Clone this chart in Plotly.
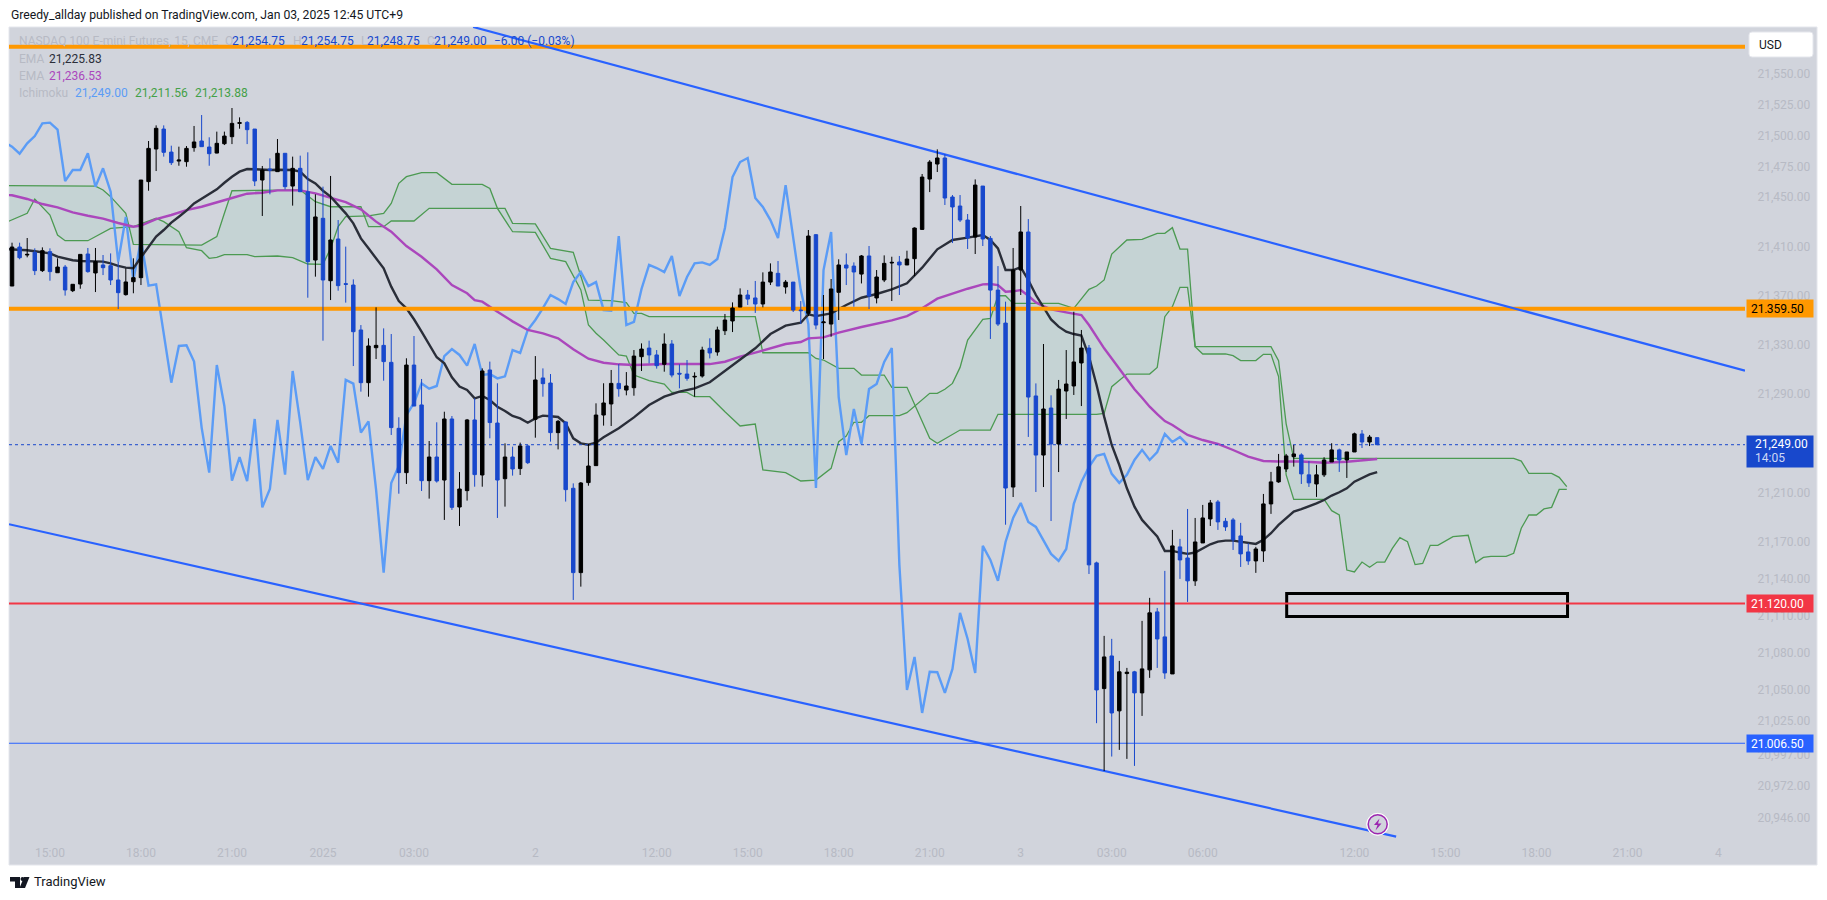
import plotly.graph_objects as go

# Colors
PANEL = '#d1d4dc'
BLACK = '#000000'
BLUE_DOWN = '#1848cc'
TREND_BLUE = '#2962ff'
ORANGE = '#ff9800'
RED = '#f23645'
FAINT = '#b7bac4'
DARK = '#131722'
MAGENTA = '#ab47bc'
GREEN = '#4c9a52'
LAG_BLUE = '#5b9cf6'

# --- 15 min candles, one entry per bar, oldest first ---
opens = [21377.9, 21409.6, 21403.1, 21405.3, 21390.4, 21405.8, 21388.7, 21393.3, 21374.1, 21379.5,
         21403.9, 21388.5, 21395.0, 21394.4, 21382.8, 21370.9, 21381.4, 21384.7, 21462.7, 21489.2,
         21505.4, 21486.7, 21479.4, 21478.9, 21490.3, 21495.7, 21490.8, 21485.9, 21493.5, 21499.2,
         21510.0, 21510.8, 21505.4, 21464.0, 21473.0, 21470.8, 21485.7, 21459.1, 21473.5, 21454.5,
         21399.0, 21432.9, 21382.2, 21416.1, 21379.8, 21378.7, 21342.2, 21299.4, 21327.8, 21329.7,
         21315.9, 21262.3, 21226.3, 21313.7, 21281.3, 21219.8, 21239.0, 21220.3, 21269.9, 21198.4,
         21211.7, 21269.1, 21224.4, 21309.7, 21266.6, 21221.4, 21239.0, 21229.6, 21248.0, 21269.6,
         21303.2, 21299.1, 21258.8, 21267.5, 21213.6, 21145.1, 21218.2, 21232.0, 21273.1, 21282.1,
         21298.8, 21293.4, 21295.3, 21320.5, 21327.5, 21321.9, 21314.3, 21330.8, 21307.0, 21306.4,
         21304.0, 21304.8, 21327.3, 21324.3, 21341.6, 21349.5, 21360.8, 21370.6, 21368.2, 21363.3,
         21381.1, 21388.2, 21377.1, 21381.1, 21358.4, 21355.7, 21419.6, 21348.1, 21347.0, 21372.8,
         21395.0, 21394.1, 21387.6, 21402.3, 21368.2, 21382.8, 21396.6, 21397.4, 21395.0, 21400.1,
         21423.9, 21464.8, 21477.0, 21481.9, 21450.2, 21442.9, 21431.5, 21417.7, 21459.1, 21416.6,
         21374.6, 21347.8, 21214.6, 21390.9, 21421.8, 21288.6, 21240.6, 21278.8, 21249.6, 21292.6,
         21296.7, 21315.4, 21327.5, 21153.0, 21050.9, 21077.4, 21032.8, 21063.1, 21064.5, 21047.4,
         21066.1, 21113.2, 21092.9, 21062.8, 21166.0, 21157.0, 21138.4, 21169.2, 21188.7, 21202.5,
         21186.8, 21187.9, 21174.9, 21161.9, 21154.6, 21162.7, 21200.9, 21218.8, 21229.3, 21239.3,
         21240.7, 21224.5, 21217.1, 21224.5, 21235.0, 21244.8, 21236.6, 21243.1, 21257.7, 21251.2,
         21254.75]
highs = [21413.1, 21413.1, 21416.9, 21408.5, 21409.3, 21408.5, 21400.4, 21395.0, 21379.3, 21403.6,
         21408.8, 21408.8, 21403.1, 21404.4, 21397.7, 21392.3, 21400.4, 21464.0, 21495.7, 21508.4,
         21508.4, 21491.9, 21491.1, 21491.6, 21507.9, 21516.8, 21498.7, 21503.3, 21503.3, 21522.5,
         21514.9, 21511.9, 21505.4, 21475.4, 21481.6, 21497.3, 21485.7, 21483.0, 21483.8, 21486.5,
         21452.4, 21458.6, 21467.3, 21431.5, 21409.9, 21383.3, 21346.2, 21335.4, 21360.6, 21343.5,
         21338.9, 21271.3, 21319.2, 21337.3, 21302.4, 21252.0, 21267.2, 21275.8, 21272.3, 21226.8,
         21269.9, 21286.7, 21311.0, 21316.5, 21298.9, 21250.1, 21247.4, 21250.7, 21248.8, 21321.0,
         21311.0, 21306.4, 21269.1, 21267.7, 21217.6, 21218.7, 21249.6, 21282.6, 21298.9, 21309.7,
         21314.5, 21308.0, 21325.9, 21331.3, 21333.5, 21325.9, 21339.4, 21334.0, 21314.3, 21317.8,
         21307.8, 21328.6, 21335.4, 21344.9, 21355.2, 21364.6, 21376.0, 21374.7, 21382.0, 21389.0,
         21396.3, 21398.2, 21382.8, 21381.1, 21365.7, 21423.4, 21420.1, 21370.6, 21383.6, 21399.6,
         21404.4, 21397.1, 21403.1, 21410.4, 21390.9, 21402.8, 21401.7, 21402.3, 21406.6, 21425.5,
         21468.9, 21480.2, 21488.9, 21485.1, 21451.8, 21451.8, 21436.4, 21464.5, 21459.1, 21418.5,
         21394.1, 21365.2, 21408.8, 21442.9, 21432.3, 21298.8, 21330.8, 21289.1, 21301.6, 21325.9,
         21357.0, 21342.2, 21330.0, 21154.0, 21093.7, 21091.3, 21073.4, 21067.7, 21065.3, 21105.9,
         21124.6, 21116.4, 21146.5, 21179.8, 21172.5, 21196.8, 21189.5, 21200.1, 21204.1, 21204.1,
         21189.5, 21189.5, 21185.5, 21169.0, 21166.0, 21209.0, 21226.9, 21241.5, 21241.5, 21248.8,
         21242.0, 21235.8, 21232.6, 21238.8, 21250.2, 21245.8, 21243.1, 21258.8, 21260.9, 21256.9,
         21254.75]
lows = [21377.9, 21399.6, 21401.2, 21386.8, 21389.3, 21382.2, 21388.7, 21370.1, 21373.0, 21375.7,
        21388.7, 21373.0, 21386.8, 21378.7, 21359.2, 21370.1, 21372.0, 21378.7, 21455.3, 21471.3,
        21483.0, 21476.2, 21475.6, 21474.8, 21487.0, 21491.1, 21475.6, 21485.7, 21492.4, 21493.2,
        21505.7, 21493.2, 21459.1, 21434.8, 21452.4, 21470.8, 21456.4, 21443.2, 21454.5, 21368.4,
        21385.5, 21333.5, 21366.5, 21374.1, 21364.4, 21312.9, 21292.1, 21288.0, 21318.6, 21301.0,
        21256.9, 21209.2, 21217.1, 21280.4, 21211.4, 21205.2, 21218.2, 21187.9, 21196.0, 21183.0,
        21203.6, 21214.9, 21214.9, 21254.2, 21189.5, 21198.7, 21223.9, 21224.4, 21233.3, 21254.7,
        21288.0, 21251.5, 21245.2, 21202.8, 21122.9, 21133.7, 21215.7, 21232.0, 21264.5, 21264.2,
        21288.0, 21289.1, 21288.8, 21308.9, 21315.1, 21310.8, 21308.3, 21303.7, 21294.8, 21301.0,
        21288.0, 21303.5, 21319.1, 21321.3, 21338.1, 21340.5, 21360.8, 21362.5, 21356.0, 21360.6,
        21378.7, 21377.9, 21371.7, 21356.8, 21347.0, 21353.5, 21342.7, 21318.6, 21336.7, 21350.3,
        21378.7, 21361.1, 21380.0, 21359.2, 21363.8, 21381.1, 21365.7, 21370.6, 21395.0, 21386.0,
        21423.4, 21454.2, 21470.5, 21443.7, 21412.8, 21429.9, 21408.0, 21403.9, 21410.4, 21334.9,
        21345.4, 21184.0, 21206.5, 21370.6, 21255.3, 21210.6, 21214.6, 21187.0, 21226.8, 21269.9,
        21289.4, 21280.4, 21144.0, 21022.8, 20984.0, 20995.7, 21001.1, 20993.8, 20988.1, 21028.7,
        21059.6, 21067.7, 21058.8, 21062.8, 21140.0, 21121.3, 21134.3, 21169.2, 21183.0, 21179.8,
        21179.0, 21163.5, 21149.7, 21151.4, 21144.9, 21153.8, 21192.8, 21218.0, 21226.9, 21231.2,
        21217.1, 21214.7, 21206.6, 21222.8, 21235.0, 21226.9, 21222.0, 21243.1, 21246.3, 21247.9,
        21248.75]
closes = [21409.6, 21400.9, 21403.6, 21390.4, 21406.6, 21389.6, 21393.3, 21374.7, 21379.3, 21403.6,
          21389.6, 21397.7, 21392.8, 21382.8, 21372.5, 21381.2, 21384.7, 21464.0, 21489.7, 21506.0,
          21486.5, 21478.1, 21480.2, 21489.7, 21494.9, 21491.1, 21485.4, 21493.8, 21499.7, 21510.0,
          21510.6, 21504.9, 21463.2, 21472.1, 21472.1, 21485.7, 21458.6, 21473.5, 21454.5, 21397.7,
          21434.0, 21382.8, 21415.3, 21378.2, 21379.3, 21340.8, 21299.4, 21329.2, 21329.7, 21316.5,
          21262.9, 21226.3, 21313.7, 21280.4, 21219.8, 21239.0, 21219.5, 21269.9, 21198.1, 21213.0,
          21269.1, 21224.7, 21308.9, 21267.0, 21220.3, 21239.0, 21229.3, 21248.0, 21234.4, 21301.6,
          21298.6, 21258.8, 21268.0, 21212.5, 21145.1, 21217.9, 21231.7, 21273.1, 21282.9, 21298.8,
          21294.5, 21296.7, 21321.0, 21326.7, 21321.9, 21313.2, 21330.8, 21305.6, 21306.4, 21302.9,
          21304.5, 21325.9, 21323.5, 21342.2, 21350.3, 21360.0, 21370.6, 21367.3, 21363.3, 21381.1,
          21389.3, 21377.9, 21381.1, 21358.4, 21357.9, 21418.5, 21346.2, 21348.7, 21375.5, 21395.0,
          21392.5, 21389.3, 21402.3, 21369.8, 21385.2, 21396.3, 21397.1, 21395.0, 21399.8, 21425.0,
          21466.4, 21478.6, 21481.9, 21449.4, 21442.1, 21431.5, 21416.9, 21459.9, 21416.1, 21374.6,
          21347.0, 21213.8, 21390.9, 21421.8, 21287.7, 21240.6, 21278.0, 21249.6, 21294.2, 21298.3,
          21316.2, 21327.5, 21151.4, 21049.8, 21076.6, 21031.1, 21064.5, 21064.2, 21047.4, 21066.9,
          21112.4, 21091.2, 21063.6, 21166.8, 21155.4, 21138.4, 21170.0, 21189.5, 21201.7, 21186.3,
          21182.2, 21171.7, 21160.3, 21154.6, 21164.3, 21200.9, 21218.8, 21231.0, 21239.9, 21241.5,
          21225.3, 21218.0, 21224.5, 21236.6, 21244.8, 21236.6, 21243.1, 21257.8, 21251.2, 21255.2,
          21249.0]
bars = list(range(len(closes)))

# --- EMA (black) ---
ema_fast_bars = [-1, 0, 1, 2, 3, 4, 5, 6, 7, 8, 9, 10, 11, 12, 13, 14, 15, 16, 17, 18, 19, 20, 21, 22, 23, 24, 25,
                 26, 27, 28, 29, 30, 31, 32, 33, 34, 35, 36, 37, 38, 39, 40, 41, 42, 43, 44, 45, 46, 47, 48, 49,
                 50, 51, 52, 53, 54, 55, 56, 57, 58, 59, 60, 61, 62, 63, 64, 65, 66, 67, 68, 69, 70, 71, 72, 73,
                 74, 75, 76, 77, 78, 80, 82, 84, 86, 88, 90, 92, 94, 96, 98, 100, 102, 104, 105, 106, 108, 110,
                 112, 114, 116, 118, 120, 122, 124, 126, 128, 129, 130, 131, 132, 133, 134, 135, 136, 137, 138,
                 139, 140, 141, 142, 143, 144, 145, 146, 147, 148, 149, 150, 151, 152, 153, 154, 155, 156, 157,
                 158, 159, 160, 161, 162, 163, 164, 165, 166, 167, 168, 169, 170, 171, 172, 173, 174, 175, 176,
                 177, 178, 179, 180]
ema_fast = [21408.0, 21407.7, 21407.4, 21406.9, 21406.1, 21405.5, 21404.4, 21401.7, 21400.1, 21398.8, 21398.2,
            21398.2, 21398.2, 21397.7, 21396.3, 21394.2, 21392.8, 21392.3, 21401.2, 21409.9, 21418.0, 21423.4,
            21429.4, 21434.2, 21439.1, 21445.0, 21448.6, 21452.6, 21456.4, 21461.8, 21466.7, 21470.8, 21472.9,
            21472.7, 21472.1, 21472.1, 21472.4, 21472.1, 21472.1, 21470.8, 21464.8, 21461.3, 21455.3, 21450.5,
            21443.7, 21436.9, 21428.8, 21416.6, 21408.5, 21400.4, 21392.3, 21377.4, 21365.7, 21359.8, 21350.9,
            21340.8, 21330.0, 21320.0, 21315.1, 21303.7, 21296.2, 21293.5, 21286.7, 21288.6, 21285.3, 21279.9,
            21276.4, 21272.3, 21270.4, 21266.9, 21270.4, 21272.6, 21272.1, 21271.5, 21266.4, 21254.2, 21250.1,
            21249.0, 21250.7, 21255.0, 21262.3, 21271.2, 21281.2, 21288.0, 21292.1, 21294.8, 21299.7, 21309.1,
            21317.8, 21327.3, 21338.9, 21345.7, 21348.1, 21354.9, 21353.5, 21355.7, 21362.5, 21368.4, 21371.4,
            21375.2, 21380.1, 21392.8, 21407.7, 21415.3, 21417.2, 21419.3, 21415.3, 21408.5, 21390.9, 21390.9,
            21393.1, 21382.8, 21370.6, 21361.1, 21350.8, 21344.9, 21340.8, 21338.9, 21337.6, 21320.5, 21297.5,
            21271.8, 21248.8, 21232.5, 21213.6, 21198.7, 21187.9, 21181.1, 21174.4, 21162.7, 21162.7, 21161.4,
            21160.3, 21161.4, 21164.9, 21168.1, 21170.3, 21171.1, 21171.1, 21170.3, 21169.0, 21168.4, 21171.7,
            21177.1, 21183.8, 21189.3, 21194.7, 21196.6, 21198.7, 21201.4, 21204.1, 21207.7, 21210.4, 21213.6,
            21219.0, 21222.2, 21224.9, 21226.8]

# --- EMA (magenta) ---
ema_slow_bars = [-1, 0, 2, 4, 6, 8, 10, 12, 14, 16, 17, 18, 19, 21, 23, 25, 27, 29, 31, 33, 35, 38, 40, 42, 44, 46,
                 48, 50, 52, 54, 56, 58, 59, 60, 61, 62, 64, 66, 68, 70, 72, 74, 76, 78, 80, 82, 86, 90, 92, 94,
                 96, 98, 100, 102, 104, 105, 107, 109, 112, 114, 116, 118, 120, 122, 124, 126, 128, 129, 130, 131,
                 132, 133, 134, 135, 136, 137, 139, 141, 142, 143, 144, 145, 146, 147, 148, 149, 150, 151, 152,
                 153, 154, 155, 157, 159, 161, 163, 165, 167, 170, 173, 176, 178, 180]
ema_slow = [21452.0, 21451.6, 21448.6, 21444.5, 21441.8, 21437.7, 21435.0, 21432.6, 21429.1, 21426.1, 21426.9,
            21429.4, 21432.3, 21435.6, 21439.6, 21442.3, 21445.6, 21449.4, 21452.9, 21453.7, 21455.6, 21455.6,
            21453.2, 21449.9, 21446.1, 21440.2, 21430.2, 21422.0, 21410.4, 21401.7, 21391.4, 21378.7, 21375.2,
            21372.0, 21366.5, 21365.2, 21357.1, 21349.2, 21342.2, 21339.5, 21335.4, 21326.5, 21318.9, 21315.6,
            21314.3, 21313.7, 21314.5, 21314.3, 21314.5, 21316.4, 21320.5, 21323.8, 21327.5, 21330.8, 21332.4,
            21335.4, 21336.2, 21340.0, 21344.6, 21347.0, 21350.0, 21353.5, 21359.8, 21367.6, 21371.9, 21375.7,
            21379.2, 21379.5, 21378.7, 21373.3, 21373.6, 21374.6, 21370.0, 21364.6, 21361.6, 21358.9, 21356.5,
            21354.3, 21346.2, 21336.2, 21327.3, 21319.1, 21310.5, 21302.9, 21294.0, 21287.2, 21279.9, 21273.9,
            21268.2, 21265.0, 21260.9, 21256.9, 21252.8, 21249.6, 21244.7, 21239.3, 21235.8, 21235.3, 21235.3,
            21234.4, 21235.2, 21236.3, 21237.4]

# --- Ichimoku lagging span, starts one bar left of the pane ---
lagging_bars = list(range(-1, 156))
lagging_span = [21494.9, 21491.1, 21485.4, 21493.8, 21499.7, 21510.0,
                21510.6, 21504.9, 21463.2, 21472.1, 21472.1, 21485.7, 21458.6, 21473.5, 21454.5, 21397.7,
                21434.0, 21382.8, 21415.3, 21378.2, 21379.3, 21340.8, 21299.4, 21329.2, 21329.7, 21316.5,
                21262.9, 21226.3, 21313.7, 21280.4, 21219.8, 21239.0, 21219.5, 21269.9, 21198.1, 21213.0,
                21269.1, 21224.7, 21308.9, 21267.0, 21220.3, 21239.0, 21229.3, 21248.0, 21234.4, 21301.6,
                21298.6, 21258.8, 21268.0, 21212.5, 21145.1, 21217.9, 21231.7, 21273.1, 21282.9, 21298.8,
                21294.5, 21296.7, 21321.0, 21326.7, 21321.9, 21313.2, 21330.8, 21305.6, 21306.4, 21302.9,
                21304.5, 21325.9, 21323.5, 21342.2, 21350.3, 21360.0, 21370.6, 21367.3, 21363.3, 21381.1,
                21389.3, 21377.9, 21381.1, 21358.4, 21357.9, 21418.5, 21346.2, 21348.7, 21375.5, 21395.0,
                21392.5, 21389.3, 21402.3, 21369.8, 21385.2, 21396.3, 21397.1, 21395.0, 21399.8, 21425.0,
                21466.4, 21478.6, 21481.9, 21449.4, 21442.1, 21431.5, 21416.9, 21459.9, 21416.1, 21374.6,
                21347.0, 21213.8, 21390.9, 21421.8, 21287.7, 21240.6, 21278.0, 21249.6, 21294.2, 21298.3,
                21316.2, 21327.5, 21151.4, 21049.8, 21076.6, 21031.1, 21064.5, 21064.2, 21047.4, 21066.9,
                21112.4, 21091.2, 21063.6, 21166.8, 21155.4, 21138.4, 21170.0, 21189.5, 21201.7, 21186.3,
                21182.2, 21171.7, 21160.3, 21154.6, 21164.3, 21200.9, 21218.8, 21231.0, 21239.9, 21241.5,
                21225.3, 21218.0, 21224.5, 21236.6, 21244.8, 21236.6, 21243.1, 21257.8, 21251.2, 21255.2,
                21249.0]

# --- Ichimoku cloud edges ---
span_a_bars = [-1, 0, 2, 3, 4, 5, 6, 7, 10, 11, 13, 16, 19, 20, 22, 23, 25, 26, 27, 28, 31, 32, 34, 35, 37, 39, 41,
               42, 43, 44, 47, 49, 50, 51, 52, 54, 56, 57, 58, 62, 63, 64, 66, 69, 71, 73, 75, 76, 77, 78, 80, 81,
               82, 84, 86, 87, 89, 90, 92, 94, 96, 98, 99, 102, 104, 106, 108, 109, 110, 111, 112, 113, 117, 118,
               121, 122, 123, 124, 125, 126, 128, 129, 130, 131, 132, 138, 140, 142, 143, 144, 145, 147, 149, 151,
               152, 153, 154, 155, 156, 157, 160, 161, 162, 164, 165, 166, 167, 168, 169, 173, 174, 175, 176, 177,
               178, 179, 180, 181, 182, 183, 184, 185, 186, 187, 188, 190, 192, 193, 194, 195, 197, 198, 199, 200,
               201, 202, 203, 204, 205]
span_a = [21429.0, 21431.5, 21437.0, 21448.6, 21441.8, 21435.6, 21419.3, 21414.7, 21414.7, 21418.0, 21424.7, 21426.1,
          21432.9, 21430.2, 21422.0, 21409.0, 21406.6, 21400.4, 21401.2, 21403.4, 21403.4, 21401.7, 21401.7, 21402.3,
          21401.0, 21395.8, 21395.5, 21408.5, 21426.1, 21434.2, 21434.8, 21436.9, 21445.0, 21461.3, 21466.7, 21470.0,
          21470.0, 21465.4, 21460.5, 21460.5, 21457.2, 21441.0, 21422.0, 21421.5, 21400.4, 21397.7, 21374.7, 21346.2,
          21339.5, 21334.0, 21321.9, 21321.0, 21305.6, 21301.0, 21298.3, 21291.5, 21291.5, 21288.0, 21288.0, 21275.8,
          21264.2, 21265.8, 21228.5, 21226.3, 21219.5, 21220.3, 21229.8, 21251.5, 21256.1, 21267.2, 21267.2, 21272.6,
          21272.6, 21275.0, 21290.7, 21290.7, 21294.0, 21298.8, 21311.8, 21334.0, 21350.8, 21351.6, 21370.0, 21370.0,
          21363.8, 21363.8, 21359.8, 21375.2, 21377.9, 21382.8, 21403.9, 21415.3, 21415.8, 21420.7, 21420.7, 21425.3,
          21407.9, 21407.9, 21328.6, 21322.7, 21322.7, 21321.3, 21317.3, 21317.3, 21322.4, 21322.4, 21304.3, 21224.4,
          21204.6, 21204.6, 21195.4, 21191.9, 21147.2, 21145.6, 21153.7, 21149.4, 21153.7, 21153.7, 21164.8, 21173.5,
          21170.2, 21151.6, 21152.6, 21167.3, 21167.3, 21174.3, 21175.4, 21153.2, 21157.5, 21158.3, 21158.3, 21160.8,
          21181.1, 21191.9, 21191.9, 21196.8, 21198.1, 21212.7, 21212.7]
span_b_bars = [-1, 0, 11, 12, 13, 15, 16, 25, 27, 28, 29, 38, 40, 42, 46, 47, 49, 50, 53, 55, 65, 66, 69, 71, 74, 76,
               78, 79, 81, 82, 83, 84, 98, 99, 105, 106, 107, 109, 111, 112, 115, 116, 118, 121, 122, 125, 129, 130,
               143, 144, 145, 147, 150, 151, 152, 153, 154, 155, 156, 166, 167, 168, 169, 198, 199, 200, 203, 204,
               205]
span_b = [21459.4, 21459.4, 21459.1, 21455.9, 21450.5, 21437.0, 21411.8, 21411.2, 21418.0, 21437.0, 21455.3, 21455.9,
          21446.4, 21442.3, 21442.3, 21426.1, 21426.1, 21430.7, 21430.7, 21441.0, 21441.0, 21428.8, 21428.3, 21408.5,
          21405.3, 21366.5, 21366.5, 21366.0, 21364.4, 21355.7, 21355.7, 21353.0, 21353.0, 21323.7, 21323.7, 21319.1,
          21317.8, 21311.0, 21311.0, 21305.6, 21305.6, 21295.6, 21295.6, 21254.2, 21250.1, 21260.9, 21260.9, 21273.7,
          21273.7, 21274.5, 21296.1, 21306.4, 21306.4, 21311.8, 21353.0, 21361.1, 21376.8, 21376.8, 21328.6, 21328.6,
          21317.3, 21266.0, 21237.9, 21237.9, 21235.7, 21225.7, 21225.7, 21222.5, 21214.9]

# --- Drawn objects ---
upper_trend_bars = [60.8, 228.5]
upper_trend_prices = [21588.3, 21309.1]
lower_trend_bars = [-0.4, 182.5]
lower_trend_prices = [21184.4, 20930.6]
box_bars = [168.07, 205.1]
box_prices = [21109.5, 21128.2]

top_level = 21572.3
resistance_level = 21359.5
red_level = 21120.0
blue_level = 21006.5
last_price = 21249.0

# --- Axes labels ---
time_tick_bars = [5, 17, 29, 41, 53, 69, 85, 97, 109, 121, 133, 145, 157, 177, 189, 201, 213, 225]
time_tick_labels = ['15:00', '18:00', '21:00', '2025', '03:00', '2', '12:00', '15:00', '18:00', '21:00', '3',
                    '03:00', '06:00', '12:00', '15:00', '18:00', '21:00', '4']
price_ticks = [21550, 21525, 21500, 21475, 21450, 21410, 21370, 21330, 21290, 21210, 21170, 21140, 21110,
               21080, 21050, 21025, 20997, 20972, 20946]

X_RANGE = [-0.4, 228.5]
Y_RANGE = [20907.6, 21588.3]

# pane in page pixels. The browser keeps its 8px body margin, so the figure starts at (8, 8)
PAGE = 8
L, R, T, B = 9, 1745, 27, 865
W, H = 1827 - PAGE, 900 - PAGE


def px(x):
    return (x - L) / (R - L)


def py(y):
    return (B - y) / (B - T)


fig = go.Figure()

# cloud, then EMAs and lagging line, then levels. Candles go on an overlay axis so they end up on top
fig.add_trace(go.Scatter(x=span_a_bars, y=span_a, mode='lines', line=dict(color=GREEN, width=1.3), hoverinfo='skip'))
fig.add_trace(go.Scatter(x=span_b_bars, y=span_b, mode='lines', line=dict(color=GREEN, width=1.3),
                         fill='tonexty', fillcolor='rgba(135,205,167,0.15)', hoverinfo='skip'))
fig.add_trace(go.Scatter(x=lagging_bars, y=lagging_span, mode='lines', line=dict(color=LAG_BLUE, width=2.4), hoverinfo='skip'))
fig.add_trace(go.Scatter(x=ema_slow_bars, y=ema_slow, mode='lines', line=dict(color=MAGENTA, width=2.4), hoverinfo='skip'))
fig.add_trace(go.Scatter(x=ema_fast_bars, y=ema_fast, mode='lines', line=dict(color='#2a2e39', width=2.4), hoverinfo='skip'))

for level, color, width, dash in [(last_price, BLUE_DOWN, 1, 'dot'), (blue_level, TREND_BLUE, 1, 'solid'),
                                  (red_level, RED, 2, 'solid'), (resistance_level, ORANGE, 4, 'solid'),
                                  (top_level, ORANGE, 4, 'solid')]:
    fig.add_trace(go.Scatter(x=X_RANGE, y=[level, level], mode='lines',
                             line=dict(color=color, width=width, dash=dash), hoverinfo='skip'))

fig.add_trace(go.Scatter(x=upper_trend_bars, y=upper_trend_prices, mode='lines',
                         line=dict(color=TREND_BLUE, width=2.2), hoverinfo='skip'))
fig.add_trace(go.Scatter(x=lower_trend_bars, y=lower_trend_prices, mode='lines',
                         line=dict(color=TREND_BLUE, width=2.2), hoverinfo='skip'))

fig.add_trace(go.Candlestick(
    x=bars, open=opens, high=highs, low=lows, close=closes,
    xaxis='x2', yaxis='y2', whiskerwidth=0,
    increasing=dict(line=dict(color=BLACK, width=1), fillcolor=BLACK),
    decreasing=dict(line=dict(color=BLUE_DOWN, width=1), fillcolor=BLUE_DOWN),
    hoverinfo='skip'
))

shapes = [
    # whole chart panel including the axis strips
    dict(type='rect', xref='paper', yref='paper', x0=px(L), x1=px(1817), y0=py(865), y1=py(27),
         fillcolor=PANEL, line=dict(color='#e4e6ec', width=1), layer='below'),
    dict(type='rect', xref='x', yref='y', x0=box_bars[0], x1=box_bars[1], y0=box_prices[0], y1=box_prices[1],
         fillcolor='rgba(0,0,0,0)', line=dict(color=BLACK, width=3), layer='below'),
    # USD box
    dict(type='path', xref='paper', yref='paper', fillcolor='white', line=dict(color='#e4e6ec', width=1),
         path=f'M {px(1752)} {py(32)} L {px(1810)} {py(32)} Q {px(1813)} {py(32)} {px(1813)} {py(35)} '
              f'L {px(1813)} {py(54)} Q {px(1813)} {py(57)} {px(1810)} {py(57)} L {px(1752)} {py(57)} '
              f'Q {px(1749)} {py(57)} {px(1749)} {py(54)} L {px(1749)} {py(35)} Q {px(1749)} {py(32)} {px(1752)} {py(32)} Z'),
    # lightning badge
    dict(type='circle', xref='paper', yref='paper', x0=px(1366.7), x1=px(1388.7), y0=py(835.3), y1=py(813.3),
         fillcolor='#f4f1f6', line=dict(color='white', width=1)),
    dict(type='circle', xref='paper', yref='paper', x0=px(1368.2), x1=px(1387.2), y0=py(833.8), y1=py(814.8),
         fillcolor=PANEL, line=dict(color='#9c27b0', width=1.5)),
    dict(type='path', xref='paper', yref='paper', fillcolor='#9c27b0', line=dict(width=0),
         path=f'M {px(1379.5)} {py(818.5)} L {px(1374)} {py(825)} L {px(1377.5)} {py(825)} L {px(1375.5)} {py(830.5)} '
              f'L {px(1381.5)} {py(823.5)} L {px(1378)} {py(823.5)} Z'),
    # TradingView mark
    dict(type='path', xref='paper', yref='paper', fillcolor=DARK, line=dict(width=0),
         path=f'M {px(10)} {py(877)} L {px(20)} {py(877)} L {px(20)} {py(888)} L {px(15)} {py(888)} L {px(15)} {py(881.5)} '
              f'L {px(10)} {py(881.5)} Z'),
    dict(type='circle', xref='paper', yref='paper', x0=px(20.5), x1=px(24.5), y0=py(881), y1=py(877),
         fillcolor=DARK, line=dict(width=0)),
    dict(type='path', xref='paper', yref='paper', fillcolor=DARK, line=dict(width=0),
         path=f'M {px(24)} {py(877)} L {px(29.5)} {py(877)} L {px(25)} {py(888)} L {px(19.5)} {py(888)} Z'),
]


def add_text(x, y, text, color, size=12, **kw):
    fig.add_annotation(xref='paper', yref='paper', x=px(x), y=py(y), text=text, showarrow=False,
                       xanchor='left', yanchor='middle', borderpad=0,
                       font=dict(family='Roboto', size=size, color=color), **kw)


# top banner and footer
add_text(10, 15, 'Greedy_allday published on TradingView.com, Jan 03, 2025 12:45 UTC+9', DARK, size=12.2)
add_text(33, 882, 'TradingView', DARK, size=13)

# indicator legend
add_text(18, 41, 'NASDAQ 100 E-mini Futures, 15, CME', FAINT)
for x, letter, value_x, value in [(224, 'O', 231, '21,254.75'), (292, 'H', 300, '21,254.75'),
                                  (360, 'L', 366, '21,248.75'), (426, 'C', 433, '21,249.00')]:
    add_text(x, 41, letter, FAINT)
    add_text(value_x, 41, value, BLUE_DOWN)
add_text(493, 41, '−6.00 (−0.03%)', BLUE_DOWN)
add_text(18, 58.7, 'EMA', FAINT)
add_text(47.5, 58.7, '21,225.83', '#2a2e39')
add_text(18, 75.7, 'EMA', FAINT)
add_text(47.5, 75.7, '21,236.53', MAGENTA)
add_text(18, 92.7, 'Ichimoku', FAINT)
add_text(74, 92.7, '21,249.00', LAG_BLUE)
add_text(133.5, 92.7, '21,211.56', '#43a047')
add_text(194, 92.7, '21,213.88', '#43a047')

add_text(1758, 44.5, 'USD', DARK)


# price tags on the right scale
def add_tag(price, text, bg, color, height=17):
    fig.add_annotation(xref='paper', yref='y', x=px(1746), y=price, text=text, showarrow=False,
                       xanchor='left', yanchor='middle', align='left', width=58, height=height,
                       bgcolor=bg, borderpad=4,
                       font=dict(family='Roboto', size=12, color=color))


add_tag(resistance_level, '21,359.50', ORANGE, BLACK, height=9)
add_tag(red_level, '21,120.00', RED, 'white', height=9)
add_tag(blue_level, '21,006.50', TREND_BLUE, 'white', height=9)
# last price tag has two rows, background first and the rows on top of it
fig.add_annotation(xref='paper', yref='paper', x=px(1746), y=py(451.3), text=' ', showarrow=False,
                   xanchor='left', yanchor='middle', width=66, height=31, bgcolor=BLUE_DOWN, borderpad=0)
add_text(1754, 444, '21,249.00', 'white')
add_text(1754, 458, '14:05', '#cfd8f5')

axis_font = dict(family='Roboto', size=12, color=FAINT)
fig.update_layout(
    width=W, height=H,
    margin=dict(l=L - PAGE, r=W - (R - PAGE), t=T - PAGE, b=H - (B - PAGE), pad=0),
    paper_bgcolor='white',
    plot_bgcolor='rgba(0,0,0,0)',
    showlegend=False,
    hovermode=False,
    boxgap=0.35,
    shapes=shapes,
    xaxis=dict(range=X_RANGE, tickvals=time_tick_bars, ticktext=time_tick_labels, tickfont=axis_font,
               ticklabelposition='inside', ticklabelstandoff=3, ticks='', showgrid=False, zeroline=False,
               showline=False, automargin=False),
    yaxis=dict(range=Y_RANGE, side='right', tickvals=price_ticks, ticktext=[f'{p:,.2f}' for p in price_ticks],
               tickfont=axis_font, ticks='outside', ticklen=9, tickcolor='rgba(0,0,0,0)', showgrid=False,
               zeroline=False, showline=False, automargin=False),
    xaxis2=dict(range=X_RANGE, overlaying='x', anchor='y2', visible=False, rangeslider=dict(visible=False)),
    yaxis2=dict(range=Y_RANGE, overlaying='y', anchor='x2', visible=False),
)

fig.write_html("out.html")
